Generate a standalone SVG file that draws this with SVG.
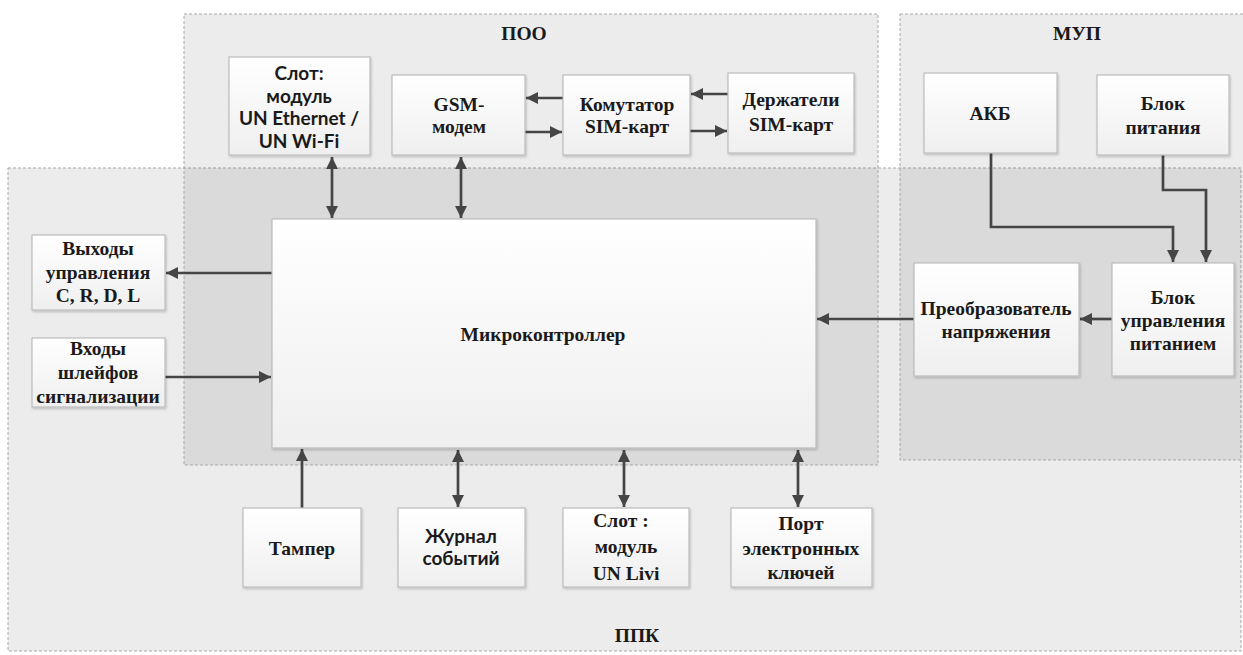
<svg xmlns="http://www.w3.org/2000/svg" width="1243" height="655" viewBox="0 0 1243 655">
<style>
.region{fill:#000;fill-opacity:0.075;stroke:#a8a8a8;stroke-width:1;stroke-dasharray:3 2}
.box{fill:url(#g);stroke:#bdbdbd;stroke-width:1.2;filter:url(#sh)}
.t{font-family:"Liberation Serif","Times New Roman",serif;font-weight:bold;font-size:19.5px;fill:#1a1a1a;text-anchor:middle}
.s{font-family:"Lato","Liberation Sans",Arial,sans-serif;font-weight:bold;font-size:19px;fill:#1a1a1a;text-anchor:middle}
.c{fill:none;stroke:#454545;stroke-width:2.7}
</style>
<defs>
<linearGradient id="g" x1="0" y1="0" x2="0" y2="1"><stop offset="0" stop-color="#ffffff"/><stop offset="1" stop-color="#efefef"/></linearGradient>
<filter id="sh" x="-5%" y="-5%" width="110%" height="115%"><feDropShadow dx="1" dy="1.5" stdDeviation="1" flood-color="#000" flood-opacity="0.2"/></filter>
<marker id="ah" viewBox="0 0 10 10" refX="10" refY="5" markerWidth="12" markerHeight="12" orient="auto-start-reverse" markerUnits="userSpaceOnUse"><path d="M0,0 L10,5 L0,10 z" fill="#454545"/></marker>
</defs>
<rect width="1243" height="655" fill="#fff"/>
<g id="regions">
<rect id="ppk" class="region" x="8" y="168" width="1233" height="483"/>
<rect id="poo" class="region" x="184" y="14" width="694" height="451"/>
<rect id="mup" class="region" x="900" y="14" width="345" height="446"/>
<text class="t" x="524" y="40" font-size="19">ПОО</text>
<text class="t" x="1077" y="40" font-size="19">МУП</text>
<text class="t" x="637" y="642" font-size="19">ППК</text>
</g>
<g id="connectors">
<line class="c" x1="332" y1="157" x2="332" y2="218" marker-start="url(#ah)" marker-end="url(#ah)"/>
<line class="c" x1="461" y1="157" x2="461" y2="218" marker-start="url(#ah)" marker-end="url(#ah)"/>
<line class="c" x1="563" y1="98" x2="526" y2="98" marker-end="url(#ah)"/>
<line class="c" x1="525" y1="132" x2="562" y2="132" marker-end="url(#ah)"/>
<line class="c" x1="728" y1="94" x2="691" y2="94" marker-end="url(#ah)"/>
<line class="c" x1="690" y1="131" x2="727" y2="131" marker-end="url(#ah)"/>
<polyline class="c" points="991,153 991,227 1173,227 1173,262" marker-end="url(#ah)"/>
<polyline class="c" points="1163,155 1163,190 1206,190 1206,262" marker-end="url(#ah)"/>
<line class="c" x1="1112" y1="319" x2="1080" y2="319" marker-end="url(#ah)"/>
<line class="c" x1="914" y1="319" x2="817" y2="319" marker-end="url(#ah)"/>
<line class="c" x1="272" y1="273" x2="166" y2="273" marker-end="url(#ah)"/>
<line class="c" x1="165" y1="377" x2="271" y2="377" marker-end="url(#ah)"/>
<line class="c" x1="302" y1="508" x2="302" y2="449" marker-end="url(#ah)"/>
<line class="c" x1="458" y1="450" x2="458" y2="507" marker-start="url(#ah)" marker-end="url(#ah)"/>
<line class="c" x1="624" y1="450" x2="624" y2="507" marker-start="url(#ah)" marker-end="url(#ah)"/>
<line class="c" x1="798" y1="450" x2="798" y2="507" marker-start="url(#ah)" marker-end="url(#ah)"/>
</g>
<g id="slot-eth"><rect class="box" x="229" y="57" width="141" height="98"/>
<text class="s" x="299" y="80">Слот:</text><text class="s" x="299" y="103">модуль</text><text class="s" x="299" y="125">UN Ethernet /</text><text class="s" x="299" y="148">UN Wi-Fi</text></g>
<g id="gsm"><rect class="box" x="392" y="75" width="133" height="80"/>
<text class="t" x="459" y="111">GSM-</text><text class="t" x="459" y="133">модем</text></g>
<g id="komm"><rect class="box" x="563" y="75" width="127" height="80"/>
<text class="t" x="627" y="111">Комутатор</text><text class="t" x="627" y="133">SIM-карт</text></g>
<g id="derzh"><rect class="box" x="728" y="73" width="126" height="80"/>
<text class="t" x="791" y="106">Держатели</text><text class="t" x="791" y="131">SIM-карт</text></g>
<g id="akb"><rect class="box" x="924" y="73" width="133" height="80"/>
<text class="t" x="990" y="120">АКБ</text></g>
<g id="bp"><rect class="box" x="1097" y="75" width="132" height="80"/>
<text class="t" x="1163" y="110">Блок</text><text class="t" x="1163" y="134">питания</text></g>
<g id="preob"><rect class="box" x="914" y="263" width="165" height="113"/>
<text class="t" x="996" y="315">Преобразователь</text><text class="t" x="996" y="338">напряжения</text></g>
<g id="bup"><rect class="box" x="1112" y="263" width="122" height="113"/>
<text class="t" x="1173" y="304">Блок</text><text class="t" x="1173" y="327">управления</text><text class="t" x="1173" y="350">питанием</text></g>
<g id="mcu"><rect class="box" x="272" y="219" width="544" height="229"/>
<text class="t" x="543" y="341" font-size="19">Микроконтроллер</text></g>
<g id="vyh"><rect class="box" x="32" y="235" width="133" height="75"/>
<text class="t" x="98" y="255">Выходы</text><text class="t" x="98" y="279">управления</text><text class="t" x="98" y="302">C, R, D, L</text></g>
<g id="vh"><rect class="box" x="32" y="338" width="133" height="69"/>
<text class="t" x="98" y="355" font-size="19">Входы</text><text class="t" x="98" y="379" font-size="19">шлейфов</text><text class="t" x="98" y="403" font-size="19">сигнализации</text></g>
<g id="tamper"><rect class="box" x="243" y="508" width="118" height="79"/>
<text class="t" x="302" y="555">Тампер</text></g>
<g id="zhurnal"><rect class="box" x="398" y="508" width="127" height="79"/>
<text class="s" x="461" y="543">Журнал</text><text class="s" x="461" y="565">событий</text></g>
<g id="slot-livi"><rect class="box" x="563" y="508" width="126" height="79"/>
<text class="t" x="621" y="527">Слот :</text><text class="t" x="626" y="553">модуль</text><text class="t" x="626" y="580">UN Livi</text></g>
<g id="port"><rect class="box" x="731" y="508" width="141" height="79"/>
<text class="t" x="801" y="530">Порт</text><text class="t" x="801" y="555">электронных</text><text class="t" x="801" y="579">ключей</text></g>
</svg>
